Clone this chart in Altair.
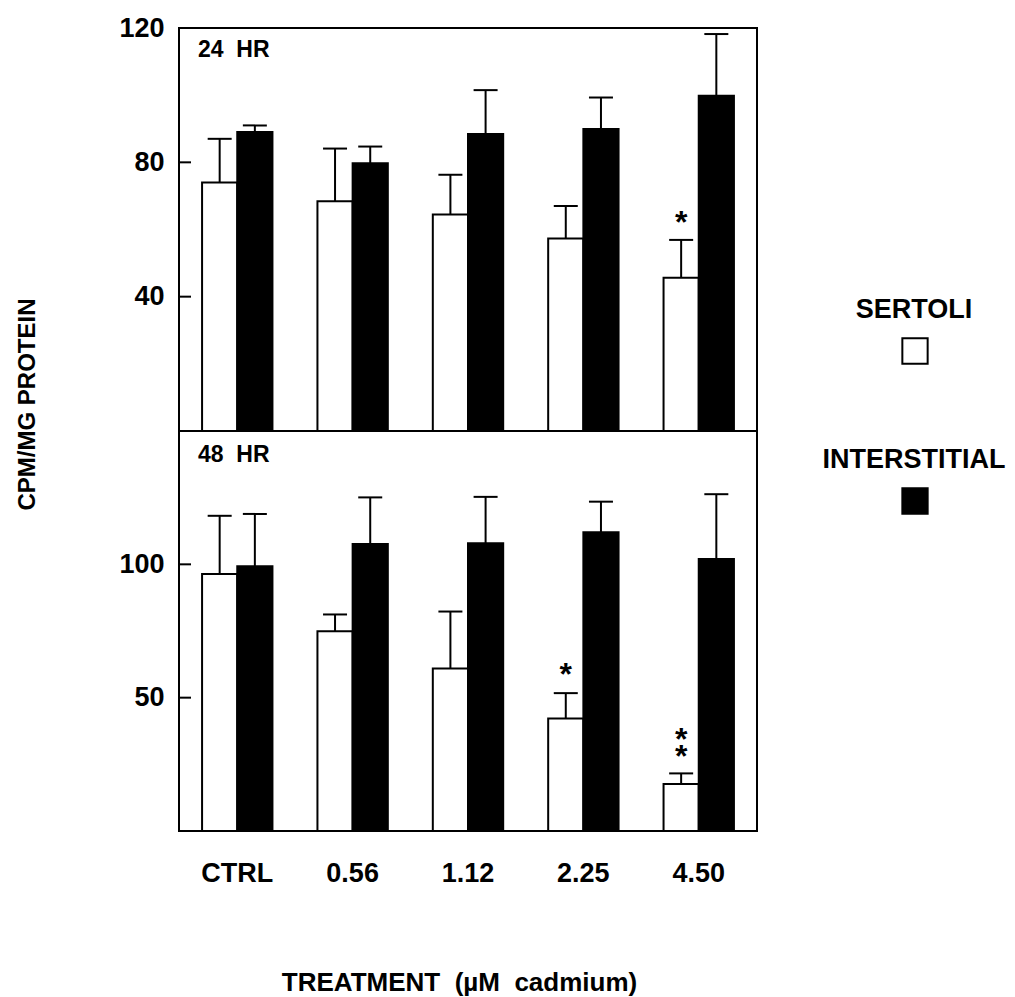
import altair as alt
import pandas as pd

# ---------------- data ----------------
doses = ["CTRL", "0.56", "1.12", "2.25", "4.50"]
series = ["SERTOLI", "INTERSTITIAL"]
fills = ["white", "black"]

s24_mean = [74.0, 68.4, 64.5, 57.3, 45.6]
s24_err = [13.0, 15.7, 11.8, 9.7, 11.3]
i24_mean = [89.0, 79.7, 88.4, 89.9, 99.8]
i24_err = [2.0, 5.0, 13.1, 9.4, 18.4]

s48_mean = [96.4, 74.9, 60.9, 42.2, 17.6]
s48_err = [21.8, 6.3, 21.4, 9.5, 4.0]
i48_mean = [99.3, 107.6, 107.9, 112.0, 102.0]
i48_err = [19.6, 17.5, 17.4, 11.5, 24.3]

# significance marks (value = centre of the upper asterisk)
star24_dose = ["4.50"]
star24_text = ["*"]
star24_y = [63.5]
star48_dose = ["2.25", "4.50"]
star48_text = ["*", "*\n*"]
star48_y = [60.2, 35.9]

y24_labels = [40, 80, 120]
y24_ticks = [40, 80]
y48_labels = [50, 100]
y48_ticks = [50, 100]

NB = "\u00a0"
FONT = "Liberation Sans"
FILL = alt.Fill("series:N", scale=alt.Scale(domain=series, range=fills), legend=None)


def make_df(s_mean, s_err, i_mean, i_err):
    rows = []
    for d, m, e in zip(doses, s_mean, s_err):
        rows.append({"dose": d, "series": "SERTOLI", "mean": m, "hi": m + e})
    for d, m, e in zip(doses, i_mean, i_err):
        rows.append({"dose": d, "series": "INTERSTITIAL", "mean": m, "hi": m + e})
    return pd.DataFrame(rows)


def legend_layer():
    leg_df = pd.DataFrame({"series": series})
    ly = alt.Y("series:N",
               scale=alt.Scale(type="point", domain=series, range=[290, 440], padding=0),
               axis=None)
    leg_text = alt.Chart(leg_df).mark_text(
        font=FONT, fontSize=27, fontWeight="bold", align="center", baseline="alphabetic",
        color="black",
    ).encode(y=ly, x=alt.value(735), text="series:N")
    leg_sq = alt.Chart(leg_df).mark_point(
        shape="square", size=640, filled=True, stroke="black", strokeWidth=2,
        opacity=1, yOffset=33,
    ).encode(y=ly, x=alt.value(736), fill=FILL)
    return alt.layer(leg_text, leg_sq)


def panel(df, star_dose, star_text, star_y, ymax, tick_vals, tag, tag_y,
          height, x_axis, y_axis, with_legend=False):
    xs = alt.Scale(domain=doses, paddingInner=0.39, paddingOuter=0.2)
    x = alt.X("dose:N", scale=xs, axis=x_axis)
    xo = alt.XOffset("series:N", scale=alt.Scale(domain=series, paddingInner=0, paddingOuter=0))
    ys = alt.Scale(domain=[0, ymax], nice=False, zero=True)

    base = alt.Chart(df)
    bars = base.mark_bar(stroke="black", strokeWidth=2).encode(
        x=x, xOffset=xo,
        y=alt.Y("mean:Q", scale=ys, axis=y_axis),
        fill=FILL,
    )
    errs = base.mark_rule(color="black", strokeWidth=2).encode(
        x=x, xOffset=xo,
        y=alt.Y("mean:Q", scale=ys, axis=y_axis), y2="hi:Q",
    )
    caps = base.mark_tick(color="black", size=24, thickness=2, opacity=1).encode(
        x=x, xOffset=xo,
        y=alt.Y("hi:Q", scale=ys, axis=y_axis),
    )
    sdf = pd.DataFrame({"dose": star_dose, "series": ["SERTOLI"] * len(star_dose),
                        "txt": star_text, "y": star_y})
    stars = alt.Chart(sdf).mark_text(
        font=FONT, fontSize=32, fontWeight="bold", color="black",
        baseline="alphabetic", dy=15, lineBreak="\n", lineHeight=17,
    ).encode(x=x, xOffset=xo, y=alt.Y("y:Q", scale=ys, axis=y_axis), text="txt:N")

    tdf = pd.DataFrame({"v": tick_vals})
    ticks = alt.Chart(tdf).mark_rule(color="black", strokeWidth=2).encode(
        y=alt.Y("v:Q", scale=ys, axis=y_axis), x=alt.value(0), x2=alt.value(12),
    )
    lab = alt.Chart(pd.DataFrame({"t": [tag]})).mark_text(
        font=FONT, fontSize=23, fontWeight="bold", align="left", baseline="alphabetic",
        color="black",
    ).encode(text="t:N", x=alt.value(19), y=alt.value(tag_y))

    inner = alt.layer(bars, errs, caps, stars, ticks, lab)
    if with_legend:
        return alt.layer(inner, legend_layer()).resolve_scale(
            y="independent"
        ).properties(width=578, height=height)
    return inner.properties(width=578, height=height)


def yaxis(vals, **kw):
    return alt.Axis(values=vals, ticks=False, tickSize=0, domain=False, grid=False,
                    labelFont=FONT, labelFontSize=27, labelFontWeight="bold",
                    labelColor="black", labelPadding=15, **kw)


df24 = make_df(s24_mean, s24_err, i24_mean, i24_err)
df48 = make_df(s48_mean, s48_err, i48_mean, i48_err)

top = panel(df24, star24_dose, star24_text, star24_y, 120, y24_ticks,
            "24" + NB + NB + "HR", 29, 403,
            None, yaxis(y24_labels, title=None), with_legend=True)

bottom = panel(
    df48, star48_dose, star48_text, star48_y, 150, y48_ticks,
    "48" + NB + NB + "HR", 31, 400,
    alt.Axis(labelAngle=0, ticks=False, tickSize=0, domain=False, grid=False,
             labelFont=FONT, labelFontSize=27, labelFontWeight="bold", labelColor="black",
             labelPadding=29,
             title="TREATMENT" + NB + NB + "(µM" + NB + NB + "cadmium)",
             titleFont=FONT, titleFontSize=26, titleFontWeight="bold", titleColor="black",
             titleX=280, titleY=138, titleBaseline="top"),
    yaxis(y48_labels, title="CPM/MG PROTEIN", titleFont=FONT, titleFontSize=24,
          titleFontWeight="bold", titleColor="black", titleX=-152, titleY=-27,
          titleBaseline="middle", titleAngle=270),
)

chart = alt.vconcat(top, bottom, spacing=0, bounds="flush").properties(
    padding={"left": 13, "top": 13, "right": 0, "bottom": 0},
    background="white",
).configure_view(stroke="black", strokeWidth=2)

chart.save("out.html", embed_options={"renderer": "svg", "actions": False})
